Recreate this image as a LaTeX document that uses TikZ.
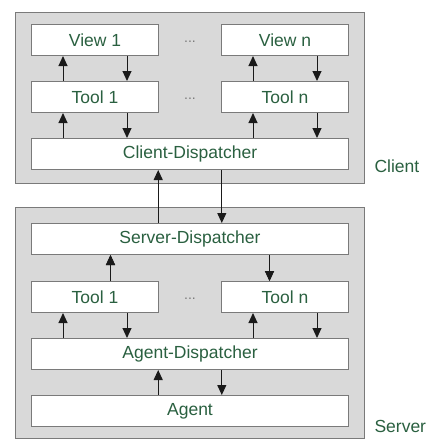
\documentclass[tikz,border=0pt]{standalone}
\usepackage{fontspec}
\setmainfont{Liberation Sans}
\usetikzlibrary{positioning,calc,arrows.meta}
\definecolor{archFrameFill}{HTML}{D9D9D9}
\definecolor{archLine}{HTML}{7A7A7A}
\definecolor{archText}{HTML}{2A6040}
\definecolor{archArrow}{HTML}{1A1A1A}

\begin{document}
\begin{tikzpicture}[x=1pt, y=1pt,
  layer/.style={draw=archLine, fill=white, line width=1pt,
    minimum height=31pt, inner sep=0pt, text=archText,
    font=\fontsize{17.5}{20}\selectfont},
  half/.style={layer, minimum width=127pt},
  wide/.style={layer, minimum width=317pt},
  frame/.style={draw=archLine, fill=archFrameFill, line width=1pt},
  flow/.style={archArrow, line width=1pt,
    -{Triangle[width=9pt,length=10pt]}},
  dots/.style={text=archLine, font=\fontsize{14}{16}\selectfont},
  side/.style={anchor=west, text=archText,
    font=\fontsize{17.5}{20}\selectfont}]

% y runs downwards from the top edge, so all y values are negative
\useasboundingbox (0,0) rectangle (429,-439);

% --- FRAMES ---
\draw[frame] (15.5,-12.5) rectangle (364.5,-183.5);
\draw[frame] (15.5,-207.5) rectangle (364.5,-438.5);
\node[side] (client) at (371,-166) {Client};
\node[side] (server) at (371,-426) {Server};

% --- CLIENT LAYERS ---
\node[half] (cv1) at (95,-40) {View 1};
\node[half] (cvn) at (285,-40) {View n};
\node[half] (ct1) at (95,-97) {Tool 1};
\node[half] (ctn) at (285,-97) {Tool n};
\node[wide] (cd) at (190,-154) {Client-Dispatcher};
\node[dots] (cdots1) at (190,-42) {...};
\node[dots] (cdots2) at (190,-99) {...};

% --- SERVER LAYERS ---
\node[wide] (sd) at (190,-239) {Server-Dispatcher};
\node[half] (st1) at (95,-297) {Tool 1};
\node[half] (stn) at (285,-297) {Tool n};
\node[wide] (ad) at (190,-354) {Agent-Dispatcher};
\node[wide] (ag) at (190,-411) {Agent};
\node[dots] (sdots) at (190,-299) {...};

% --- UP / DOWN PAIRS (up at 25%, down at 75%) ---
\foreach \lo/\hi in {ct1/cv1, ctn/cvn, cd/ct1, cd/ctn,
                     st1/sd, stn/sd, ad/st1, ad/stn}
  {
  \coordinate (up) at ($(\hi.south west)!.25!(\hi.south east)$);
  \coordinate (dn) at ($(\hi.south west)!.75!(\hi.south east)$);
  \draw[flow] (up |- \lo.north) -- (up);
  \draw[flow] (dn) -- (dn |- \lo.north);
  }

% --- DISPATCHER LINKS (up at 40%, down at 60%) ---
\foreach \lo/\hi in {sd/cd, ag/ad}
  {
  \coordinate (up) at ($(\lo.north west)!.4!(\lo.north east)$);
  \coordinate (dn) at ($(\lo.north west)!.6!(\lo.north east)$);
  \draw[flow] (up) -- (up |- \hi.south);
  \draw[flow] (dn |- \hi.south) -- (dn);
  }

\end{tikzpicture}
\end{document}
